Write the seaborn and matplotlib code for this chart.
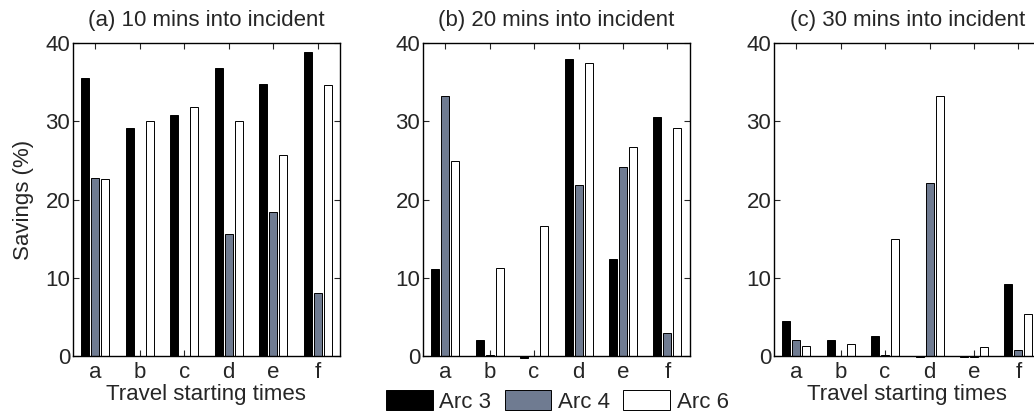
import matplotlib
matplotlib.use("Agg")
import matplotlib.pyplot as plt
import pandas as pd
import seaborn as sns

TIMES = ['a', 'b', 'c', 'd', 'e', 'f']
ARCS = ['Arc 3', 'Arc 4', 'Arc 6']
COLORS = ['#000000', '#6F7B91', '#FFFFFF']

TITLES = ['(a) 10 mins into incident', '(b) 20 mins into incident', '(c) 30 mins into incident']

# savings (%) per arc, one list per panel
arc3_10 = [35.6, 29.2, 30.8, 36.8, 34.8, 38.9]
arc4_10 = [22.7, 0.0, 0.0, 15.6, 18.4, 8.0]
arc6_10 = [22.6, 30.1, 31.9, 30.1, 25.7, 34.6]

arc3_20 = [11.1, 2.0, -0.2, 38.0, 12.4, 30.6]
arc4_20 = [33.3, 0.2, 0.05, 21.9, 24.2, 3.0]
arc6_20 = [25.0, 11.2, 16.6, 37.4, 26.7, 29.1]

arc3_30 = [4.5, 2.0, 2.6, -0.1, -0.1, 9.2]
arc4_30 = [2.0, 0.0, 0.2, 22.1, -0.1, 0.8]
arc6_30 = [1.3, 1.5, 15.0, 33.3, 1.1, 5.4]

panels = [
    [arc3_10, arc4_10, arc6_10],
    [arc3_20, arc4_20, arc6_20],
    [arc3_30, arc4_30, arc6_30],
]

FS = 16


def to_frame(series):
    rows = []
    for arc, vals in zip(ARCS, series):
        for t, v in zip(TIMES, vals):
            rows.append({'time': t, 'arc': arc, 'savings': v})
    return pd.DataFrame(rows)


sns.set_style("ticks")
plt.rcParams['font.family'] = ['Liberation Sans', 'DejaVu Sans']
plt.rcParams['font.size'] = FS

fig = plt.figure(figsize=(10.34, 4.15), dpi=100)
lefts = [0.0706, 0.409, 0.7485]

for i, (series, title) in enumerate(zip(panels, TITLES)):
    ax = fig.add_axes([lefts[i], 0.142, 0.258, 0.754])
    df = to_frame(series)
    sns.barplot(data=df, x='time', y='savings', hue='arc', order=TIMES,
                hue_order=ARCS, palette=COLORS, width=0.675, gap=0.2,
                edgecolor='black', linewidth=0.7, saturation=1,
                errorbar=None, ax=ax, legend=(i == 1))
    for p in ax.patches:
        p.set_clip_on(False)
    ax.set_ylim(0, 40)
    ax.set_xlim(-0.5, 5.5)
    ax.set_yticks([0, 10, 20, 30, 40])
    ax.tick_params(direction='in', top=True, right=True, length=4,
                   labelsize=FS)
    ax.tick_params(axis='y', pad=2)
    ax.tick_params(axis='x', pad=4)
    for s in ax.spines.values():
        s.set_linewidth(1.0)
        s.set_color('black')
    ax.set_title(title, fontsize=FS, pad=12)
    ax.set_ylabel('Savings (%)' if i == 0 else '', fontsize=FS, labelpad=8)
    ax.set_xlabel('Travel starting times' if i != 1 else '', fontsize=FS, labelpad=1)
    if i == 1:
        ax.legend(loc='center', bbox_to_anchor=(0.539, 0.032),
                  bbox_transform=fig.transFigure, ncol=3,
                  frameon=False, fontsize=FS, handlelength=2.1,
                  handleheight=1.0, handletextpad=0.3, columnspacing=0.6,
                  borderaxespad=0, borderpad=0)

fig.savefig('out.png', dpi=100)
